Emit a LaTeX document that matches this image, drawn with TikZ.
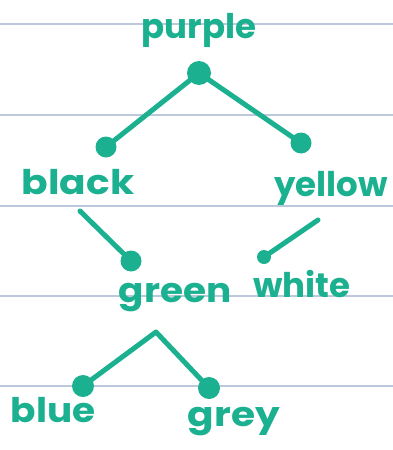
\documentclass[tikz,border=0pt]{standalone}
\usepackage{fontspec}
\setmainfont{Poppins}
\definecolor{ink}{HTML}{1BB08F}
\definecolor{rule}{HTML}{BCC9DD}
\begin{document}
\begin{tikzpicture}[x=1pt,y=-1pt,
  dotnode/.style={circle,fill=ink,inner sep=0pt,minimum size=#1},
  word/.style={text=ink,font=\fontsize{34}{34}\selectfont\bfseries,inner sep=0pt,anchor=center},
  link/.style={draw=ink,line width=5pt,line cap=round,line join=round},
  ruling/.style={draw=rule,line width=1.2pt}]
\useasboundingbox (0,0) rectangle (393,450);
\foreach \yy in {24,115,206,296,386} \draw[ruling] (0,\yy) -- (393,\yy);
% labels
\node[word] (tpurple) at (199,30) {purple};
\node[word,xscale=1.15] (tblack) at (78,182) {black};
\node[word] (tyellow) at (331,188) {yellow};
\node[word,xscale=1.1] (tgreen) at (175,298) {green};
\node[word] (twhite) at (302,284) {white};
\node[word,xscale=1.1] (tblue) at (53,410) {blue};
\node[word,xscale=1.15] (tgrey) at (234,422) {grey};
% dots
\node[dotnode=24pt] (dpurple) at (199,73) {};
\node[dotnode=21pt] (dblack) at (106,147) {};
\node[dotnode=21pt] (dyellow) at (301,143) {};
\node[dotnode=21pt] (dgreen) at (131,261) {};
\node[dotnode=14pt] (dwhite) at (264,257) {};
\node[dotnode=22pt] (dblue) at (83,386) {};
\node[dotnode=22pt] (dgrey) at (209,388) {};
% free ends
\coordinate (cblack) at (80,211);
\coordinate (cyellow) at (318,220);
\coordinate (capex) at (156,332);
% connectors
\draw[link] (dpurple.center) -- (dblack.center);
\draw[link] (dpurple.center) -- (dyellow.center);
\draw[link] (cblack) -- (dgreen.center);
\draw[link] (cyellow) -- (dwhite.center);
\draw[link] (dblue.center) -- (capex) -- (dgrey.center);
\end{tikzpicture}
\end{document}
